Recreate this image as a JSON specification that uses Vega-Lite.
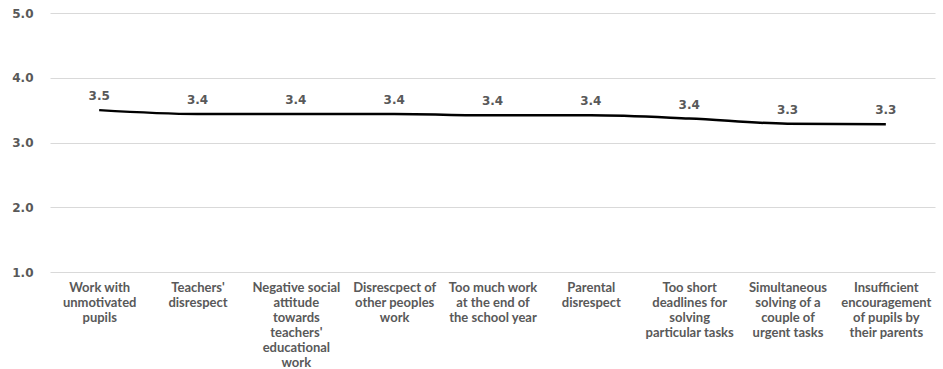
{
  "$schema": "https://vega.github.io/schema/vega-lite/v6.json",
  "width": 885,
  "height": 259,
  "autosize": "none",
  "padding": {"left": 50, "top": 13, "right": 8, "bottom": 97},
  "background": "white",
  "config": {"view": {"stroke": null}},
  "data": {
    "values": [
      {"order": 1, "problem": "Work with|unmotivated|pupils", "score": 3.5},
      {"order": 2, "problem": "Teachers'|disrespect", "score": 3.44},
      {"order": 3, "problem": "Negative social|attitude|towards|teachers'|educational|work", "score": 3.44},
      {"order": 4, "problem": "Disrescpect of|other peoples|work", "score": 3.44},
      {"order": 5, "problem": "Too much work|at the end of|the school year", "score": 3.42},
      {"order": 6, "problem": "Parental|disrespect", "score": 3.42},
      {"order": 7, "problem": "Too short|deadlines for|solving|particular tasks", "score": 3.37},
      {"order": 8, "problem": "Simultaneous|solving of a|couple of|urgent tasks", "score": 3.29},
      {"order": 9, "problem": "Insufficient|encouragement|of pupils by|their parents", "score": 3.28}
    ]
  },
  "encoding": {
    "x": {
      "field": "problem",
      "type": "nominal",
      "sort": {"field": "order"},
      "scale": {"type": "point", "padding": 0.5},
      "axis": {
        "title": null,
        "domain": false,
        "ticks": false,
        "labelAngle": 0,
        "labelExpr": "split(datum.label, '|')",
        "labelFont": "Lato",
        "labelFontWeight": "bold",
        "labelFontSize": 13,
        "labelLineHeight": 15,
        "labelColor": "#595959",
        "labelPadding": 9,
        "labelBaseline": "top",
        "labelLimit": 200
      }
    },
    "y": {
      "field": "score",
      "type": "quantitative",
      "scale": {"domain": [1, 5], "nice": false, "zero": false},
      "axis": {
        "title": null,
        "values": [1, 2, 3, 4, 5],
        "format": ".1f",
        "domain": false,
        "ticks": false,
        "grid": true,
        "gridColor": "#d9d9d9",
        "gridWidth": 1,
        "labelFont": "DejaVu Sans",
        "labelFontWeight": "bold",
        "labelFontSize": 12,
        "labelColor": "#595959",
        "labelPadding": 17
      }
    }
  },
  "layer": [
    {
      "mark": {"type": "line", "color": "black", "strokeWidth": 2.5, "interpolate": "monotone"}
    },
    {
      "mark": {
        "type": "text",
        "dy": -14,
        "font": "DejaVu Sans",
        "fontWeight": "bold",
        "fontSize": 12,
        "color": "#595959"
      },
      "encoding": {"text": {"field": "score", "type": "quantitative", "format": ".1f"}}
    }
  ]
}
